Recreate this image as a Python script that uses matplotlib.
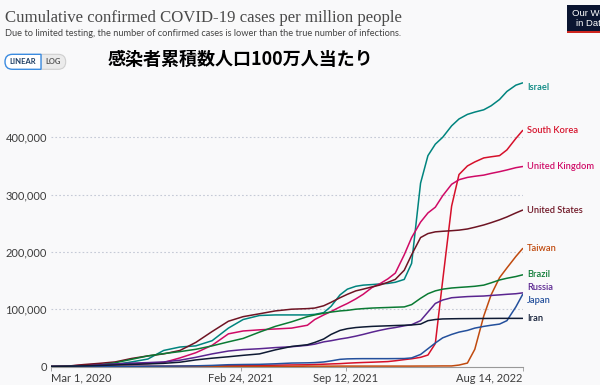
import matplotlib
matplotlib.use("Agg")
import matplotlib.pyplot as plt
import pandas as pd
from matplotlib.patches import PathPatch, Rectangle
from matplotlib.path import Path
from matplotlib.transforms import IdentityTransform

# cumulative confirmed cases per million (in thousands)
dates = ["2020-03-01", "2020-04-01", "2020-05-01", "2020-06-01", "2020-07-01", "2020-08-01",
         "2020-09-01", "2020-10-01", "2020-11-01", "2020-12-01", "2021-01-01", "2021-02-01",
         "2021-03-01", "2021-04-01", "2021-05-01", "2021-06-01", "2021-07-01", "2021-07-15",
         "2021-08-01", "2021-08-15", "2021-09-01", "2021-09-15", "2021-10-01", "2021-10-15",
         "2021-11-01", "2021-11-15", "2021-12-01", "2021-12-15", "2022-01-01", "2022-01-15",
         "2022-02-01", "2022-02-15", "2022-03-01", "2022-03-15", "2022-04-01", "2022-04-15",
         "2022-05-01", "2022-05-15", "2022-06-01", "2022-06-15", "2022-07-01", "2022-07-15",
         "2022-08-01", "2022-08-14"]

israel = [0, 0.5, 1.8, 2, 3.5, 8, 13, 28, 34, 36, 45, 67, 82, 89, 90, 90, 90, 91, 94, 105,
          125, 135, 140, 142, 143, 144, 145, 147, 152, 180, 320, 368, 388, 400, 420, 432,
          440, 444, 448, 455, 466, 480, 491, 495]
south_korea = [0, 0.2, 0.2, 0.2, 0.25, 0.3, 0.4, 0.5, 0.5, 0.7, 1.2, 1.5, 1.7, 2, 2.3, 2.7,
               3, 3.5, 4, 4.5, 5, 5.8, 6.5, 7, 7.5, 8, 8.6, 10, 12, 13.5, 16, 20, 40, 150,
               280, 335, 350, 357, 364, 366, 368, 378, 398, 412]
united_kingdom = [0, 0.5, 2.5, 4, 4.5, 4.8, 5.2, 7, 15, 24, 37, 57, 62, 64, 65.5, 67, 72, 82,
                  90, 96, 104, 110, 118, 126, 138, 144, 153, 163, 195, 225, 252, 268, 278,
                  298, 318, 326, 330, 332, 334, 337, 340, 343, 347, 349]
united_states = [0, 0.6, 3.3, 5.5, 8, 14, 18.5, 22, 28, 42, 61, 79, 87, 92, 97, 100, 101, 102,
                 106, 112, 120, 126, 132, 135, 139, 142, 147, 152, 168, 195, 225, 232, 235,
                 236, 237, 238, 240, 243, 247, 251, 256, 261, 268, 273]
taiwan = [0, 0, 0, 0, 0, 0, 0, 0, 0, 0, 0, 0, 0, 0, 0, 0.1, 0.6, 0.6, 0.6, 0.6, 0.7, 0.7,
          0.7, 0.7, 0.7, 0.7, 0.7, 0.7, 0.7, 0.7, 0.8, 0.8, 0.9, 1, 1, 2.5, 6, 30, 88, 125,
          155, 172, 192, 206]
brazil = [0, 0.03, 0.4, 2.4, 6.5, 12.5, 18.5, 22.5, 26, 30, 36, 43, 49, 60, 70, 78, 87, 90,
          93, 95, 97, 98, 100, 101, 102, 102.5, 103, 103.5, 104, 108, 119, 127, 132, 135,
          137, 138, 139, 140, 142, 146, 151, 154, 157, 160]
russia = [0, 0.02, 0.7, 2.8, 4.5, 5.8, 6.8, 8, 11, 16, 22, 27, 29.5, 31, 33, 34.5, 37, 39,
          43, 45, 48, 50, 53, 56, 60, 63, 66, 68, 71, 73, 80, 95, 110, 116, 120, 121, 122,
          122.5, 123, 124, 125, 126, 127, 128.5]
japan = [0, 0.02, 0.1, 0.13, 0.15, 0.3, 0.55, 0.66, 0.8, 1.2, 1.9, 3.1, 3.5, 3.8, 4.7, 6,
         6.4, 6.8, 7.9, 9.8, 12.5, 13.3, 13.6, 13.7, 13.7, 13.7, 13.7, 13.8, 13.9, 15, 21,
         31, 41, 50, 56, 60, 63, 67, 70, 72, 74, 80, 104, 126]
iran = [0, 0.5, 1.1, 1.8, 2.7, 3.6, 4.5, 5.5, 7.5, 11.5, 14.5, 17, 19.5, 22, 29, 35, 38,
        42, 48, 56, 63, 66, 68, 69, 70, 70.5, 71, 71.5, 72, 72.5, 74, 80, 82, 83, 83.3,
        83.5, 83.6, 83.7, 83.8, 83.9, 84, 84, 84, 84]

names = ["Israel", "South Korea", "United Kingdom", "United States", "Taiwan",
         "Brazil", "Russia", "Japan", "Iran"]
series = [israel, south_korea, united_kingdom, united_states, taiwan,
          brazil, russia, japan, iran]
colors = ["#00847E", "#D6102A", "#CF0A66", "#6E1423", "#C04A0E",
          "#0A7A33", "#5A2590", "#24509C", "#0E1A33"]
label_shift = {"Israel": -3.6, "Russia": 3.6, "Japan": -4.3}

x_ticks = ["2020-03-01", "2021-02-24", "2021-09-12", "2022-08-14"]
x_tick_labels = ["Mar 1, 2020", "Feb 24, 2021", "Sep 12, 2021", "Aug 14, 2022"]
y_ticks = [0, 100000, 200000, 300000, 400000]

plt.rcParams["font.family"] = ["Lato", "DejaVu Sans"]
W, H = 600, 385
fig = plt.figure(figsize=(W / 100, H / 100), dpi=100, facecolor="#f9f9fa")
ax = fig.add_axes([51 / W, 18.5 / H, 471.7 / W, 286.5 / H])
ax.set_facecolor("none")

d = pd.to_datetime(dates)
for name, vals, col in zip(names, series, colors):
    v = [x * 1000 for x in vals]
    ax.plot(d, v, color=col, lw=1.1, solid_capstyle="round", solid_joinstyle="round", zorder=3)
    ax.annotate(name, xy=(d[-1], v[-1]), xytext=(3.2, label_shift.get(name, 0)),
                textcoords="offset points", va="center", ha="left", color=col,
                fontsize=6.7, fontweight="semibold", annotation_clip=False)

ax.set_xlim(pd.Timestamp("2020-03-01"), pd.Timestamp("2022-08-14"))
ax.set_ylim(0, 500000)
ax.set_yticks(y_ticks)
ax.set_yticklabels([f"{t:,}" for t in y_ticks])
ax.set_xticks(pd.to_datetime(x_ticks))
ax.set_xticklabels(x_tick_labels)
xl = ax.get_xticklabels()
xl[0].set_ha("left")
xl[-1].set_ha("right")
ax.tick_params(axis="y", length=0, pad=3, labelsize=8, labelcolor="#3d3d3d")
ax.tick_params(axis="x", length=3, width=0.6, color="#999999", pad=1.5,
               labelsize=8, labelcolor="#3d3d3d")
for t in y_ticks[1:]:
    ax.axhline(t, color="#c5cad6", lw=0.8, ls=(0, (1.5, 2)), zorder=1)
for s in ["top", "right", "left"]:
    ax.spines[s].set_visible(False)
ax.spines["bottom"].set_color("#999999")
ax.spines["bottom"].set_linewidth(0.8)

# header texts
fig.text(5 / W, 1 - 22 / H, "Cumulative confirmed COVID-19 cases per million people",
         family="Liberation Serif", fontsize=12.1, color="#4a4a4a", va="baseline")
fig.text(5 / W, 1 - 36 / H,
         "Due to limited testing, the number of confirmed cases is lower than the true number of infections.",
         fontsize=6.7, color="#444444", va="baseline")
fig.text(108 / W, 1 - 59 / H, "感染者累積数人口100万人当たり",
         family=["Noto Sans CJK JP", "DejaVu Sans"], fontweight="bold",
         fontsize=13, color="black", va="center")


def half_pill(x0, x1, y0, y1, side):
    r = (y1 - y0) / 2
    M, L, C, Z = Path.MOVETO, Path.LINETO, Path.CURVE3, Path.CLOSEPOLY
    if side == "left":
        verts = [(x1, y0), (x1, y1), (x0 + r, y1), (x0, y1), (x0, y1 - r),
                 (x0, y0), (x0 + r, y0), (x1, y0)]
    else:
        verts = [(x0, y1), (x0, y0), (x1 - r, y0), (x1, y0), (x1, y0 + r),
                 (x1, y1), (x1 - r, y1), (x0, y1)]
    codes = [M, L, L, C, C, C, C, Z]
    return Path(verts, codes)


# LINEAR / LOG toggle (pixel coordinates, origin bottom-left)
by0, by1 = H - 69.3, H - 54.3
fig.patches.append(PathPatch(half_pill(41, 65.7, by0, by1, "right"), facecolor="#ebebeb",
                             edgecolor="#cfcfcf", lw=0.8, transform=IdentityTransform()))
fig.patches.append(PathPatch(half_pill(5, 41, by0, by1, "left"), facecolor="#ffffff",
                             edgecolor="#3b8be0", lw=1.0, transform=IdentityTransform()))
fig.text(23 / W, 1 - 62 / H, "LINEAR", fontsize=5.5, fontweight="bold", color="#1d3d63",
         ha="center", va="center")
fig.text(53.5 / W, 1 - 62 / H, "LOG", fontsize=5.5, fontweight="bold", color="#555555",
         ha="center", va="center")

# logo (cut off by the right edge, as in the source screenshot)
fig.patches.append(Rectangle((567, H - 31), 40, 26, facecolor="#0b1531",
                             edgecolor="none", transform=IdentityTransform()))
fig.patches.append(Rectangle((567, H - 33), 40, 2.5, facecolor="#ce261e",
                             edgecolor="none", transform=IdentityTransform()))
fig.text(572 / W, 1 - 14 / H, "Our World", family="Liberation Sans", fontsize=6.8,
         color="white", va="center")
fig.text(576 / W, 1 - 24 / H, "in Data", family="Liberation Sans", fontsize=6.8,
         color="white", va="center")

fig.savefig("out.png", dpi=100, facecolor=fig.get_facecolor())
